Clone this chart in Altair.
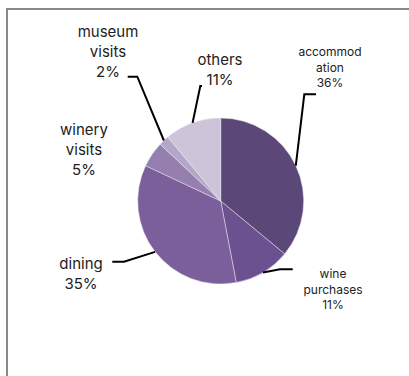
import math
import altair as alt
import pandas as pd

# ---- data ----
categories = ["accommodation", "wine purchases", "dining", "winery visits", "museum visits", "others"]
values = [36, 11, 35, 5, 2, 11]
label_texts = [
    "accommod\nation\n36%",
    "wine\npurchases\n11%",
    "dining\n35%",
    "winery\nvisits\n5%",
    "museum\nvisits\n2%",
    "others\n11%",
]

# ---- style / layout ----
colors = ["#5c4878", "#6b5190", "#7b5f9b", "#947faf", "#b4a6c8", "#cdc4da"]
CX, CY, R = 220.7, 201, 83
# (x centre, y of first line, font size, line height)
label_pos = {
    "accommodation": (330, 52, 12, 15.5),
    "wine purchases": (333, 274, 12, 15.5),
    "dining": (81, 264, 15, 20),
    "winery visits": (84, 130, 15, 20),
    "museum visits": (108, 32, 15, 20),
    "others": (220, 60, 15, 20),
}
leader_bends = {
    "accommodation": [(304.3, 94.3), (316, 94.3)],
    "wine purchases": [(280, 269.3), (292.7, 269.3)],
    "dining": [(124, 261.7), (112.3, 261.7)],
    "museum visits": [(137.3, 76.7), (127.7, 76.7)],
    "others": [(200.3, 86), (202, 86)],
}

total = sum(values)
pie_df = pd.DataFrame({"category": categories, "value": values, "idx": range(len(categories))})

# leader lines: start at slice mid-angle on the rim
rows = []
cum = 0
for cat, v in zip(categories, values):
    mid = (cum + v / 2) / total * 2 * math.pi
    cum += v
    if cat not in leader_bends:
        continue
    sx = CX + R * math.sin(mid)
    sy = CY - R * math.cos(mid)
    pts = [(sx, sy)] + leader_bends[cat]
    for i, (px, py) in enumerate(pts):
        rows.append({"category": cat, "px": px, "py": py, "o": i})
lines_df = pd.DataFrame(rows)

lab_rows = []
for cat, txt in zip(categories, label_texts):
    x, y, fs, lh = label_pos[cat]
    lab_rows.append({"category": cat, "text": txt, "lx": x, "ly": y, "fs": fs, "lh": lh})
lab_df = pd.DataFrame(lab_rows)

one = pd.DataFrame({"a": [0]})
frame_top = alt.Chart(one).mark_rule(stroke="#888888", strokeWidth=2).encode(
    x=alt.value(6), x2=alt.value(409), y=alt.value(9)
)
frame_left = alt.Chart(one).mark_rule(stroke="#888888", strokeWidth=2).encode(
    x=alt.value(7), y=alt.value(8), y2=alt.value(376)
)

pie = alt.Chart(pie_df).mark_arc(radius=R, stroke="#e8e4ee", strokeWidth=0.5).encode(
    theta=alt.Theta("value:Q", stack=True),
    order=alt.Order("idx:Q"),
    color=alt.Color("category:N", scale=alt.Scale(domain=categories, range=colors), legend=None),
    x=alt.value(CX),
    y=alt.value(CY),
)

leaders = alt.Chart(lines_df).mark_line(color="black", strokeWidth=2).encode(
    x=alt.X("px:Q", scale=None),
    y=alt.Y("py:Q", scale=None),
    detail="category:N",
    order="o:Q",
)

def label_layer(df, fs, lh):
    return alt.Chart(df).mark_text(
        font="Inter", fontSize=fs, lineHeight=lh, color="#222222",
        align="center", baseline="middle", lineBreak="\n",
    ).encode(
        x=alt.X("lx:Q", scale=None),
        y=alt.Y("ly:Q", scale=None),
        text="text:N",
    )

big = label_layer(lab_df[lab_df.fs == 15], 15, 20)
small = label_layer(lab_df[lab_df.fs == 12], 12, 15.5)

chart = alt.layer(frame_top, frame_left, pie, leaders, big, small).properties(
    width=409, height=376, padding=0, autosize=alt.AutoSizeParams(type="none"),
    background="white",
).configure_view(strokeWidth=0)

chart.save("out.html", embed_options={"renderer": "svg", "actions": False})
